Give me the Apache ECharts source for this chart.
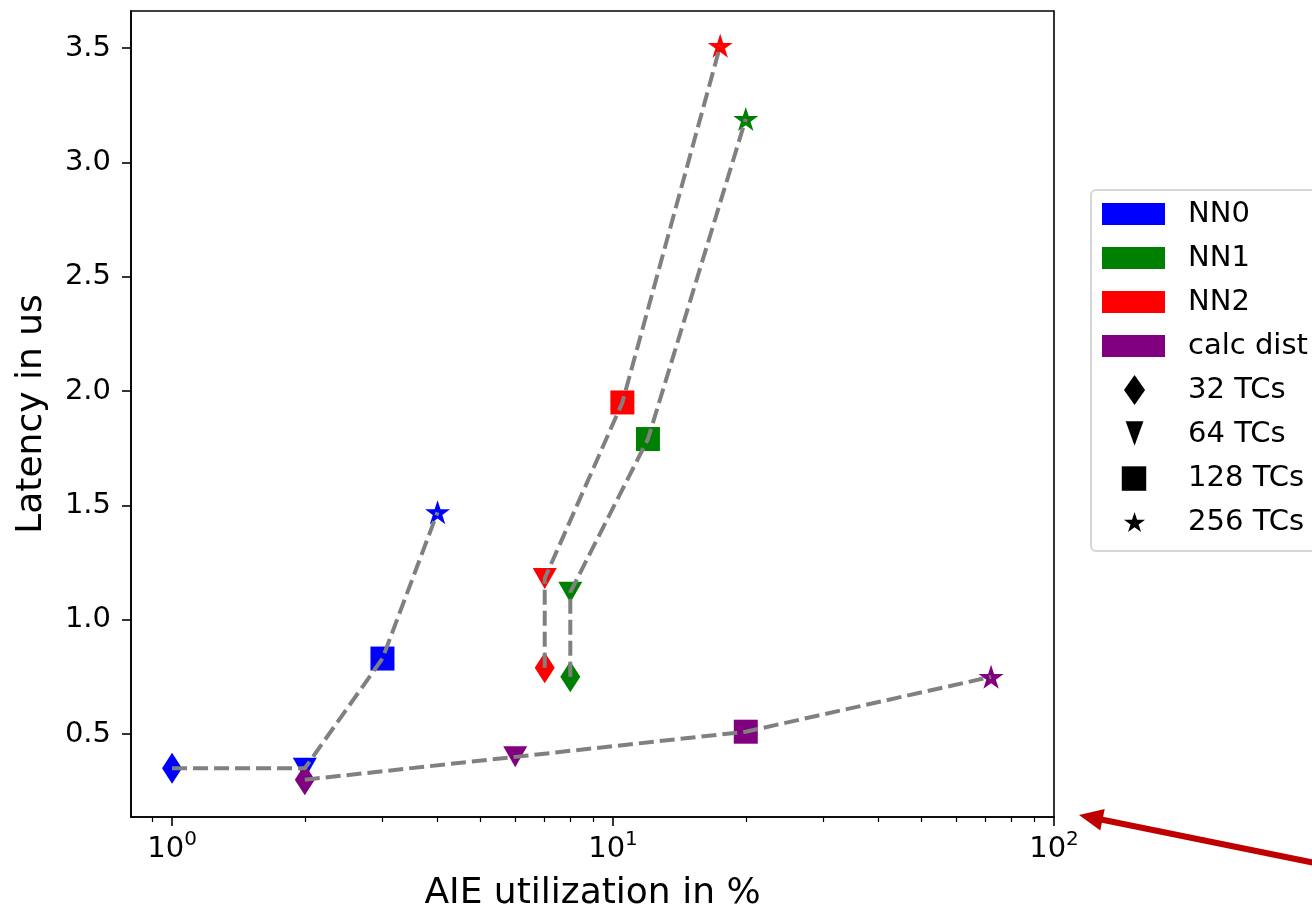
<!DOCTYPE html>
<html>
<head>
<meta charset="utf-8">
<script src="https://cdn.jsdelivr.net/npm/echarts@6/dist/echarts.min.js"></script>
<style>
  html, body { margin: 0; padding: 0; background: #fff; }
  #main { width: 1312px; height: 910px; }
</style>
</head>
<body>
<div id="main"></div>
<script>
// data (x = AIE utilization %, y = latency in us)
// order of points in every group: 32, 64, 128, 256 TCs
const groupNames = ['NN0', 'NN1', 'NN2', 'calc dist'];
const tcNames = ['32 TCs', '64 TCs', '128 TCs', '256 TCs'];

const nn0Util = [1, 2, 3, 4];
const nn0Lat = [0.35, 0.35, 0.83, 1.47];
const nn1Util = [8, 8, 12, 20];
const nn1Lat = [0.75, 1.12, 1.79, 3.19];
const nn2Util = [7, 7, 10.5, 17.5];
const nn2Lat = [0.79, 1.18, 1.95, 3.51];
const calcUtil = [2, 6, 20, 72];
const calcLat = [0.3, 0.4, 0.51, 0.75];

const xMajorTicks = [1, 10, 100];
const xMinorTicks = [0.9, 2, 3, 4, 5, 6, 7, 8, 9, 20, 30, 40, 50, 60, 70, 80, 90];
const yTicks = [0.5, 1.0, 1.5, 2.0, 2.5, 3.0, 3.5];

// styles
const groupColors = ['#0000ff', '#008000', '#ff0000', '#800080'];
const DIAMOND = 'path://M13,0 L26,20 L13,40 L0,20 Z';
const TRI_DOWN = 'path://M0,0 L24,0 L12,21 Z';
const SQUARE = 'path://M0,0 L20,0 L20,20 L0,20 Z';
const STAR = 'path://M100,0 L122.45,69.1 L195.1,69.1 L136.3,111.8 L158.8,180.9 L100,138.2 L41.2,180.9 L63.7,111.8 L4.9,69.1 L77.55,69.1 Z';
const markerSymbols = [DIAMOND, TRI_DOWN, SQUARE, STAR];
const markerSizes = [[20, 31], [24, 21], [24, 24], [25, 24]];
// legend icons (padded with move-tos so they keep their own size inside the item box)
const legendIcons = [
  'path://M0,0 M19,27 M9.5,0 L19,13.5 L9.5,27 L0,13.5 Z',
  'path://M-4,0 M20,27 M0,2 L16,2 L8,24 Z',
  'path://M-1,0 M24,27 M0,3 L22,3 L22,25 L0,25 Z',
  'path://M-40,-45 M240,225 M100,0 L122.45,69.1 L195.1,69.1 L136.3,111.8 L158.8,180.9 L100,138.2 L41.2,180.9 L63.7,111.8 L4.9,69.1 L77.55,69.1 Z'
];

const FONT = 'DejaVu Sans';
const utils = [nn0Util, nn1Util, nn2Util, calcUtil];
const lats = [nn0Lat, nn1Lat, nn2Lat, calcLat];

const series = [];
groupNames.forEach((name, g) => {
  series.push({
    name: name,
    type: 'scatter',
    z: 2,
    itemStyle: { color: groupColors[g], opacity: 1 },
    data: utils[g].map((u, i) => ({
      value: [u, lats[g][i]],
      symbol: markerSymbols[i],
      symbolSize: markerSizes[i]
    }))
  });
  series.push({
    type: 'line',
    z: 3,
    symbol: 'none',
    silent: true,
    lineStyle: { color: '#808080', width: 4, type: [15, 6] },
    data: utils[g].map((u, i) => [u, lats[g][i]])
  });
});
// dummy series so the marker legend has entries
tcNames.forEach((name) => {
  series.push({ name: name, type: 'scatter', data: [], itemStyle: { color: '#000', opacity: 1 } });
});

const chart = echarts.init(document.getElementById('main'));
chart.setOption({
  animation: false,
  backgroundColor: '#fff',
  textStyle: { fontFamily: FONT },
  grid: {
    left: 131, right: 258, top: 11, bottom: 93,
    outerBoundsMode: 'none',
    containLabel: false,
    show: true, borderColor: '#000', borderWidth: 1.6, backgroundColor: 'transparent'
  },
  xAxis: [{
    type: 'log',
    logBase: 10,
    min: 0.807,
    max: 100,
    name: 'AIE utilization in %',
    nameLocation: 'middle',
    nameGap: 59,
    nameTextStyle: { fontFamily: FONT, fontSize: 36, color: '#000' },
    axisLine: { show: true, lineStyle: { color: '#000', width: 1.6 } },
    axisTick: { show: true, inside: false, length: 9, customValues: xMajorTicks,
      lineStyle: { color: '#000', width: 1.6 } },
    axisLabel: {
      customValues: xMajorTicks,
      margin: 13,
      formatter: (v) => '{b|10}{s|' + Math.round(Math.log10(v)) + '}',
      rich: {
        b: { fontFamily: FONT, fontSize: 29, color: '#000', lineHeight: 34, verticalAlign: 'bottom' },
        s: { fontFamily: FONT, fontSize: 20, color: '#000', lineHeight: 24, verticalAlign: 'top' }
      }
    },
    splitLine: { show: false },
    minorTick: { show: false }
  }, {
    type: 'log',
    logBase: 10,
    min: 0.807,
    max: 100,
    position: 'bottom',
    axisLine: { show: false },
    axisTick: { show: true, inside: false, length: 5, customValues: xMinorTicks,
      lineStyle: { color: '#000', width: 1.2 } },
    axisLabel: { show: false },
    splitLine: { show: false }
  }],
  yAxis: {
    type: 'value',
    min: 0.137,
    max: 3.662,
    name: 'Latency in us',
    nameLocation: 'middle',
    nameGap: 81,
    nameRotate: 90,
    nameTextStyle: { fontFamily: FONT, fontSize: 36, color: '#000' },
    axisLine: { show: true, lineStyle: { color: '#000', width: 1.6 } },
    axisTick: { show: true, inside: false, length: 9, customValues: yTicks,
      lineStyle: { color: '#000', width: 1.6 } },
    axisLabel: {
      customValues: yTicks,
      margin: 20,
      fontFamily: FONT, fontSize: 29, color: '#000',
      formatter: (v) => v.toFixed(1)
    },
    splitLine: { show: false }
  },
  legend: [{
    orient: 'vertical',
    left: 1102, top: 199.5,
    padding: 0,
    itemWidth: 63, itemHeight: 22, itemGap: 15,
    icon: 'rect',
    selectedMode: false,
    data: groupNames,
    textStyle: { fontFamily: FONT, fontSize: 29, color: '#000', padding: [0, 0, 0, 18] }
  }, {
    orient: 'vertical',
    left: 1119, top: 375,
    padding: 0,
    itemWidth: 63, itemHeight: 30, itemGap: 14,
    selectedMode: false,
    data: tcNames.map((n, i) => ({ name: n, icon: legendIcons[i], itemStyle: { color: '#000', opacity: 1 } })),
    itemStyle: { color: '#000', opacity: 1 },
    textStyle: { fontFamily: FONT, fontSize: 29, color: '#000', padding: [0, 0, 0, 17] }
  }],
  graphic: [{
    type: 'rect',
    z: 0,
    shape: { x: 1091, y: 190, width: 300, height: 361, r: 5 },
    style: { fill: '#fff', stroke: '#d6d6d6', lineWidth: 2 }
  }, {
    type: 'group',
    z: 100,
    children: [{
      type: 'line',
      shape: { x1: 1330, y1: 866, x2: 1100, y2: 819.3 },
      style: { stroke: '#c00000', lineWidth: 6 }
    }, {
      type: 'polygon',
      shape: { points: [[1079, 815], [1100.3, 830.5], [1104.7, 809.0]] },
      style: { fill: '#c00000' }
    }]
  }],
  series: series
});
</script>
</body>
</html>
